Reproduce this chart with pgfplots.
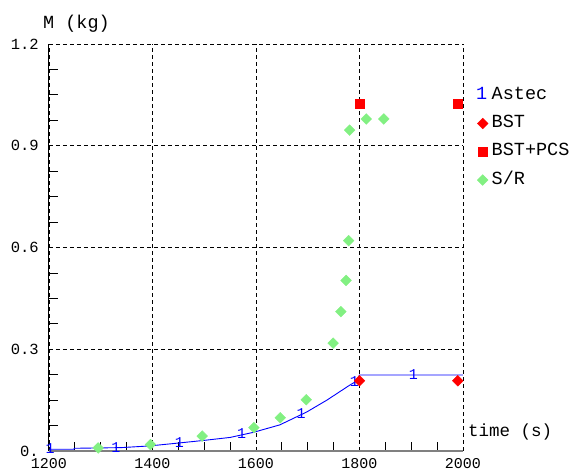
\documentclass[border=0pt]{standalone}
\usepackage{fontspec}
\setmainfont{Liberation Mono}
\usepackage{pgfplots}
\pgfplotsset{compat=1.18}
\definecolor{srgreen}{RGB}{130,240,130}
\pgfplotsset{
 marklegend/.style={legend image code/.code={\draw[##1] plot coordinates {(0pt,0pt)}; \path[draw=none,fill=none] (-5pt,-5pt) rectangle (9pt,5pt);}},
 astleg/.style={legend image code/.code={\node[text=blue, inner sep=0pt, anchor=center] at (-1pt,0pt) {1}; \path[draw=none,fill=none] (-5pt,-5pt) rectangle (9pt,5pt);}},
}
\begin{document}
\fontsize{17}{20}\selectfont
\begin{tikzpicture}[x=1pt,y=1pt]
\begin{axis}[
 name=ax, at={(0pt,0pt)}, anchor=south west,
 scale only axis, width=414pt, height=407pt,
 xmin=1200, xmax=2000, ymin=0, ymax=1.2,
 axis x line*=bottom, axis y line*=left,
 xtick={1200,1400,1600,1800,2000}, xticklabels={1200,1400,1600,1800,2000},
 ytick={0,0.3,0.6,0.9,1.2}, yticklabels={0.,0.3,0.6,0.9,1.2},
 minor x tick num=3, minor y tick num=3,
 major tick length=0pt, minor tick length=9pt, tick align=inside,
 grid=major,
 major grid style={black, dash pattern=on 4pt off 3pt, line width=0.8pt},
 minor grid style={draw=none},
 x axis line style={gray, line width=1.5pt},
 y axis line style={black, line width=1pt},
 minor tick style={black, line width=0.8pt},
 xticklabel style={anchor=north, inner sep=0pt, yshift=-7pt, font=\fontsize{15}{15}\selectfont},
 yticklabel style={anchor=east, inner sep=0pt, xshift=-10pt, font=\fontsize{15.5}{15.5}\selectfont},
 xlabel={time (s)}, ylabel={M (kg)},
 every axis x label/.style={at={(axis description cs:1,0)}, anchor=base west, inner sep=0pt, xshift=5pt, yshift=14pt, font=\fontsize{17.5}{17.5}\selectfont},
 every axis y label/.style={at={(axis description cs:0,1)}, anchor=base west, inner sep=0pt, xshift=-6pt, yshift=15.5pt, font=\fontsize{18.5}{18.5}\selectfont},
 legend style={draw=none, fill=none, at={(axis description cs:1,1)}, anchor=north west,
   xshift=13pt, yshift=-44pt, inner sep=0pt, row sep=14.3pt,
   font=\fontsize{18.5}{18.5}\selectfont,
   nodes={inner sep=0pt, text height=11pt, text depth=3pt}},
 legend cell align=left,
 clip=false,
]
\addplot[blue, line width=0.9pt, mark=none, astleg]
 coordinates {(1200,0.005) (1247,0.005) (1250,0.008) (1340,0.010) (1395,0.015) (1447,0.023) (1498,0.031) (1550,0.040) (1595,0.055) (1646,0.077) (1698,0.115) (1737,0.150) (1782,0.195) (1792,0.204) (1800,0.224) (2000,0.224)};
\addlegendentry{Astec}
\addplot[forget plot, only marks, blue, mark=text, text mark={1}, text mark as node=true,
  text mark style={anchor=center, inner sep=0pt, font=\fontsize{15}{15}\selectfont, text=blue}]
 coordinates {(1202,0.008) (1329,0.011) (1452,0.026) (1572,0.052) (1687,0.110) (1790,0.206) (1904,0.224)};
\addplot[only marks, red, mark=square*, mark size=3.8pt, mark options={rotate=45, fill=red, draw=red}, marklegend]
 coordinates {(1800,0.207) (1990,0.207)};
\addlegendentry{BST}
\addplot[only marks, red, mark=square*, mark size=4.6pt, mark options={fill=red, draw=red}, marklegend]
 coordinates {(1800,1.023) (1990,1.023)};
\addlegendentry{BST+PCS}
\addplot[only marks, srgreen, mark=square*, mark size=3.8pt, mark options={rotate=45, fill=srgreen, draw=srgreen}, marklegend]
 coordinates {(1295,0.009) (1396,0.019) (1496,0.044) (1596,0.069) (1647,0.098) (1697,0.151) (1749,0.318) (1764,0.411) (1774,0.503) (1779,0.620) (1781,0.946) (1813,0.979) (1847,0.979)};
\addlegendentry{S/R}
\end{axis}
\pgfresetboundingbox
\path[use as bounding box] (-49pt,-19pt) rectangle (524pt,451pt);
\end{tikzpicture}
\end{document}
